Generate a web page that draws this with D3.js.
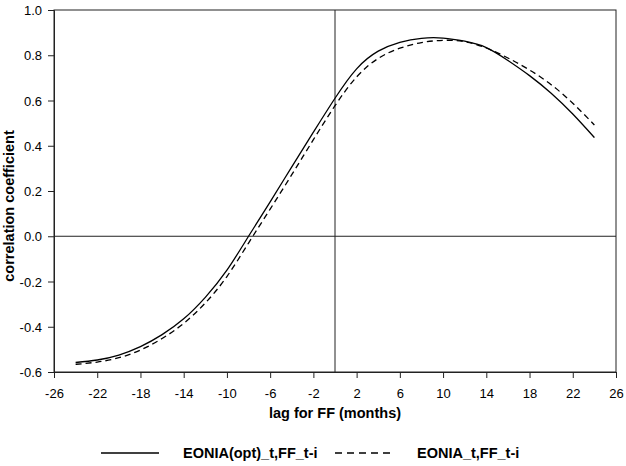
<!DOCTYPE html>
<meta charset="utf-8">
<head>
  <style>
    body { margin: 0; background: #fff; }
    text { font-family: "Liberation Sans", Arial, sans-serif; fill: #000; }
  </style>
<title>Correlation of EONIA and FF by lag</title>
</head>
<body>
  <script src="https://cdn.jsdelivr.net/npm/d3@7"></script>
  <script>
    // data
    const lags = [-24,-22,-20,-18,-16,-14,-12,-10,-8,-6,-4,-2,0,2,4,6,8,10,12,14,16,18,20,22,24];
    const eoniaOpt = [-0.558,-0.547,-0.525,-0.488,-0.435,-0.365,-0.270,-0.150,0.000,0.152,0.307,0.460,0.610,0.740,0.818,0.857,0.875,0.876,0.862,0.834,0.777,0.710,0.632,0.540,0.436];
    const eonia = [-0.566,-0.556,-0.537,-0.503,-0.452,-0.385,-0.295,-0.178,-0.030,0.120,0.272,0.427,0.577,0.704,0.786,0.831,0.856,0.866,0.860,0.832,0.788,0.735,0.670,0.588,0.492];
    const xTicks = d3.range(-26, 27, 4);
    const yTicks = [-0.6,-0.4,-0.2,0.0,0.2,0.4,0.6,0.8,1.0];

    const margin = {top: 10, right: 10, bottom: 94, left: 54};
    const W = 626, H = 466;
    const width = W - margin.left - margin.right;
    const height = H - margin.top - margin.bottom;

    const x = d3.scaleLinear().domain([-26, 26]).range([0, width]);
    const y = d3.scaleLinear().domain([-0.6, 1.0]).range([height, 0]);

    // plain hyphen for negatives, like the original
    const fmtX = function(d) { return d3.format("d")(d).replace("\u2212", "-"); };
    const fmtY = function(d) { return d3.format(".1f")(d).replace("\u2212", "-"); };

    const svg = d3.select("body").append("svg")
        .attr("width", W)
        .attr("height", H);
    const g = svg.append("g")
        .attr("transform", "translate(" + margin.left + "," + margin.top + ")");

    // frame
    g.append("rect")
      .attr("width", width).attr("height", height)
      .attr("fill", "none").attr("stroke", "#222").attr("stroke-width", 1);

    // reference lines
    g.append("line")
      .attr("x1", 0).attr("x2", width)
      .attr("y1", y(0)).attr("y2", y(0))
      .attr("stroke", "#222");
    g.append("line")
      .attr("x1", x(0)).attr("x2", x(0))
      .attr("y1", 0).attr("y2", height)
      .attr("stroke", "#222");

    // axes
    const xAxis = g.append("g")
      .attr("transform", "translate(0," + height + ")")
      .call(d3.axisBottom(x).tickValues(xTicks).tickSize(6).tickPadding(11).tickFormat(fmtX));
    const yAxis = g.append("g")
      .call(d3.axisLeft(y).tickValues(yTicks).tickSize(6).tickPadding(6).tickFormat(fmtY));
    [xAxis, yAxis].forEach(function(a) {
      a.select(".domain").attr("stroke", "#222");
      a.selectAll(".tick line").attr("stroke", "#222");
      a.selectAll("text").style("font-size", "13px").style("font-family", "'Liberation Sans', Arial, sans-serif");
    });
    yAxis.selectAll(".tick text").attr("dy", "0.36em");

    // axis titles
    svg.append("text")
      .attr("x", margin.left + width / 2)
      .attr("y", 418)
      .attr("text-anchor", "middle")
      .style("font-size", "14.5px").style("font-weight", "bold")
      .text("lag for FF (months)");
    svg.append("text")
      .attr("transform", "translate(14," + (margin.top + height / 2 + 15) + ") rotate(-90)")
      .attr("text-anchor", "middle")
      .style("font-size", "14.5px").style("font-weight", "bold")
      .text("correlation coefficient");

    // curves
    const line = d3.line()
      .x(function(d) { return x(d[0]); })
      .y(function(d) { return y(d[1]); })
      .curve(d3.curveNatural);

    g.append("path")
      .datum(d3.zip(lags, eoniaOpt))
      .attr("d", line)
      .attr("fill", "none").attr("stroke", "#000").attr("stroke-width", 1.3);
    g.append("path")
      .datum(d3.zip(lags, eonia))
      .attr("d", line)
      .attr("fill", "none").attr("stroke", "#000").attr("stroke-width", 1.3)
      .attr("stroke-dasharray", "6,4");

    // legend
    const legend = svg.append("g");
    legend.append("line")
      .attr("x1", 101).attr("x2", 159).attr("y1", 453).attr("y2", 453)
      .attr("stroke", "#000").attr("stroke-width", 1.3);
    legend.append("text")
      .attr("x", 183).attr("y", 458)
      .style("font-size", "14.5px").style("font-weight", "bold")
      .text("EONIA(opt)_t,FF_t-i");
    legend.append("line")
      .attr("x1", 335).attr("x2", 393).attr("y1", 453).attr("y2", 453)
      .attr("stroke", "#000").attr("stroke-width", 1.3)
      .attr("stroke-dasharray", "7,5");
    legend.append("text")
      .attr("x", 417).attr("y", 458)
      .style("font-size", "14.5px").style("font-weight", "bold")
      .text("EONIA_t,FF_t-i");
  </script>
</body>
